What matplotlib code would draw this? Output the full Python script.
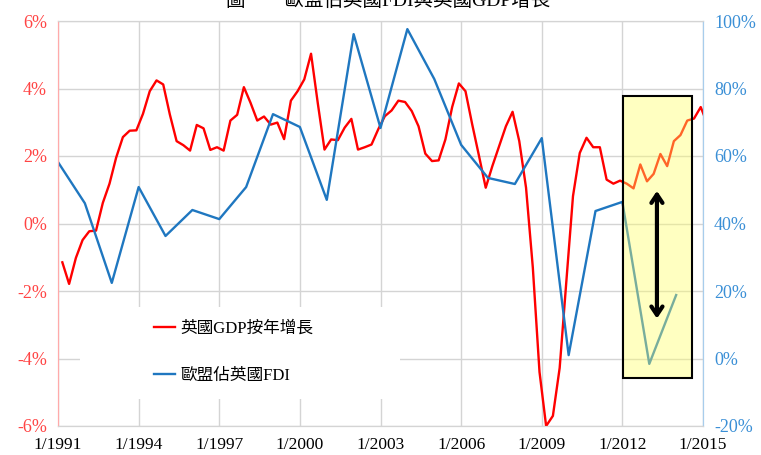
import numpy as np
import pandas as pd
import matplotlib
matplotlib.use('Agg')
import matplotlib.pyplot as plt
from matplotlib.patches import Rectangle

plt.rcParams['font.family'] = ['Liberation Serif', 'Noto Sans CJK TC']

# UK GDP growth, year on year (%), quarterly from 3/1991
gdp_growth = [
    -1.15, -1.79, -1.02, -0.49, -0.23, -0.21, 0.61, 1.18, 1.95, 2.56,
    2.75, 2.76, 3.25, 3.92, 4.24, 4.12, 3.23, 2.44, 2.32, 2.16,
    2.92, 2.82, 2.18, 2.26, 2.16, 3.05, 3.22, 4.04, 3.58, 3.05,
    3.17, 2.93, 2.99, 2.50, 3.64, 3.92, 4.27, 5.03, 3.56, 2.19,
    2.49, 2.47, 2.84, 3.10, 2.19, 2.26, 2.34, 2.79, 3.18, 3.35,
    3.64, 3.60, 3.33, 2.88, 2.07, 1.85, 1.87, 2.49, 3.45, 4.15,
    3.92, 2.93, 2.00, 1.06, 1.70, 2.29, 2.88, 3.31, 2.44, 1.06,
    -1.30, -4.40, -6.00, -5.70, -4.28, -1.71, 0.81, 2.09, 2.54, 2.26,
    2.26, 1.30, 1.18, 1.27, 1.18, 1.04, 1.75, 1.25, 1.47, 2.06,
    1.70, 2.44, 2.62, 3.05, 3.11, 3.45, 2.95,
]
gdp_dates = pd.date_range('1991-03-01', periods=len(gdp_growth), freq='3MS')

# EU share of UK FDI (%), yearly
fdi_years = list(range(1991, 2015))
fdi_share = [58.2, 46.0, 22.4, 50.8, 36.3, 44.0, 41.3, 50.8, 72.4, 68.6,
             47.0, 96.1, 68.3, 97.6, 82.8, 63.3, 53.5, 51.7, 65.3, 1.0,
             43.7, 46.4, -1.6, 18.8]
fdi_dates = pd.to_datetime([f'{y}-01-01' for y in fdi_years])

tick_years = [1991, 1994, 1997, 2000, 2003, 2006, 2009, 2012, 2015]
left_ticks = [-6, -4, -2, 0, 2, 4, 6]
right_ticks = [-20, 0, 20, 40, 60, 80, 100]

red = '#ff0000'
blue = '#1f77c0'

fig = plt.figure(figsize=(7.61, 4.55), dpi=100)
ax = fig.add_axes([58 / 761, 1 - 426 / 455, (703 - 58) / 761, (426 - 21) / 455])
ax2 = ax.twinx()

ax.plot(gdp_dates, gdp_growth, color=red, lw=1.7, zorder=3,
        label='英國GDP按年增長')
ax2.plot(fdi_dates, fdi_share, color=blue, lw=1.7, zorder=2,
         label='歐盟佔英國FDI')

xt = pd.to_datetime([f'{y}-01-01' for y in tick_years])
ax.set_xlim(xt[0], xt[-1])
ax.set_xticks(xt)
ax.set_xticklabels([f'1/{y}' for y in tick_years], fontsize=12.5)
ax.set_ylim(-6, 6)
ax.set_yticks(left_ticks)
ax.set_yticklabels([f'{v}%' for v in left_ticks], fontsize=13, color='#ff4444')
ax2.set_ylim(-20, 100)
ax2.set_yticks(right_ticks)
ax2.set_yticklabels([f'{v}%' for v in right_ticks], fontsize=13, color='#3a8fd6')

ax.grid(True, color='#d4d4d4', lw=1.0)
ax.tick_params(length=0, pad=8)
ax2.tick_params(length=0, pad=8)
for a in (ax, ax2):
    a.spines['top'].set_color('#d4d4d4')
    a.spines['bottom'].set_color('#d4d4d4')
    a.spines['left'].set_color('#ffaaaa')
    a.spines['right'].set_color('#a8cdec')

# white legend area
ax.add_patch(Rectangle((pd.Timestamp('1991-10-25'), -5.21),
                       pd.Timestamp('2003-09-20') - pd.Timestamp('1991-10-25'), 2.75,
                       facecolor='white', edgecolor='none', zorder=1.8))
h1, l1 = ax.get_legend_handles_labels()
h2, l2 = ax2.get_legend_handles_labels()
leg = ax2.legend(h1 + h2, l1 + l2, loc='center left', bbox_to_anchor=(0.125, 0.1815),
                 frameon=False, fontsize=12, handlelength=1.3, handletextpad=0.3,
                 labelspacing=1.9)

# highlight box and arrow
ax2.add_patch(Rectangle((pd.Timestamp('2012-01-10'), -5.8),
                        pd.Timestamp('2014-08-01') - pd.Timestamp('2012-01-10'), 83.6,
                        facecolor='#ffff66', alpha=0.4, edgecolor='none', zorder=4))
ax2.add_patch(Rectangle((pd.Timestamp('2012-01-10'), -5.8),
                        pd.Timestamp('2014-08-01') - pd.Timestamp('2012-01-10'), 83.6,
                        facecolor='none', edgecolor='black', lw=1.5, zorder=5))
ax2.annotate('', xy=(pd.Timestamp('2013-04-15'), 50.5),
             xytext=(pd.Timestamp('2013-04-15'), 11.0),
             arrowprops=dict(arrowstyle='<->,head_length=0.6,head_width=0.4',
                             color='black', lw=3), zorder=6)

fig.text(0.51, 1 - 6 / 455, '圖　　歐盟佔英國FDI與英國GDP增長', ha='center',
         va='baseline', fontsize=14)

fig.savefig('out.png', dpi=100)
